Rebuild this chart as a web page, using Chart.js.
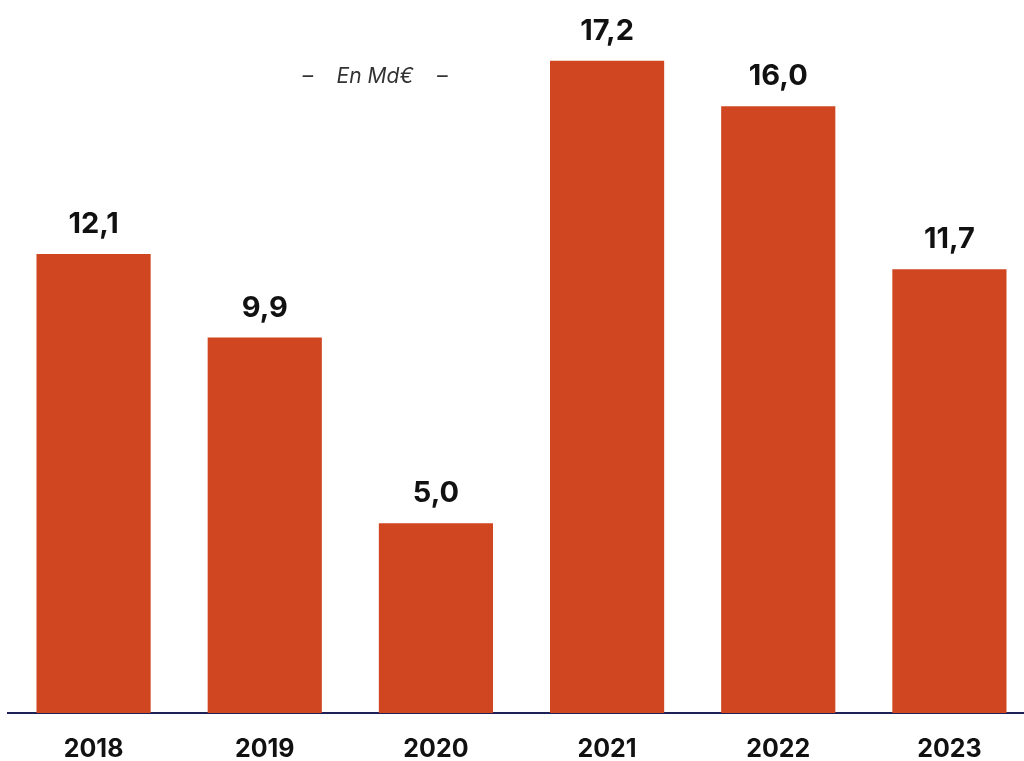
<!DOCTYPE html>
<html>
<head>
<meta charset="utf-8">
<script src="https://cdn.jsdelivr.net/npm/chart.js@4"></script>
<style>
  html, body { margin: 0; padding: 0; background: #fff; overflow: hidden; }
  #wrap { width: 1024px; height: 761px; overflow: hidden; }
  #wrap canvas { display: block; }
</style>
</head>
<body>
<div id="wrap"><canvas id="chart" width="1035" height="785" style="width:1035px;height:785px"></canvas></div>
<script>
const years = ['2018', '2019', '2020', '2021', '2022', '2023'];
const values = [12.1, 9.9, 5.0, 17.2, 16.0, 11.7];
const unitNote = '–    En Md€    –';

const fmt = v => v.toFixed(1).replace('.', ',');

// value labels above the bars + unit note
const labelsPlugin = {
    id: 'labels',
    afterDatasetsDraw(chart) {
        const ctx = chart.ctx;
        const meta = chart.getDatasetMeta(0);
        ctx.save();
        ctx.fillStyle = '#111';
        ctx.font = '700 29px Inter, sans-serif';
        ctx.textAlign = 'center';
        ctx.textBaseline = 'alphabetic';
        meta.data.forEach((bar, i) => {
            ctx.fillText(fmt(values[i]), bar.x, bar.y - 21);
        });
        ctx.font = 'italic 21px Inter, sans-serif';
        ctx.fillStyle = '#333';
        ctx.fillText(unitNote, 375, 83);
        ctx.restore();
    }
};

new Chart(document.getElementById('chart').getContext('2d'), {
    type: 'bar',
    data: {
        labels: years,
        datasets: [{
            data: values,
            backgroundColor: '#D04621',
            categoryPercentage: 1,
            barPercentage: 0.667
        }]
    },
    options: {
        responsive: false,
        animation: false,
        layout: { padding: { left: 8, right: 0, top: 0, bottom: 0 } },
        plugins: {
            legend: { display: false },
            tooltip: { enabled: false }
        },
        scales: {
            x: {
                grid: { display: false, drawTicks: false },
                border: { display: true, color: '#1E2157', width: 2 },
                ticks: {
                    color: '#111',
                    font: { family: 'Inter, sans-serif', size: 25, weight: '700' },
                    padding: 21
                }
            },
            y: {
                display: false,
                min: 0,
                max: 18.8
            }
        }
    },
    plugins: [labelsPlugin]
});
</script>
</body>
</html>
